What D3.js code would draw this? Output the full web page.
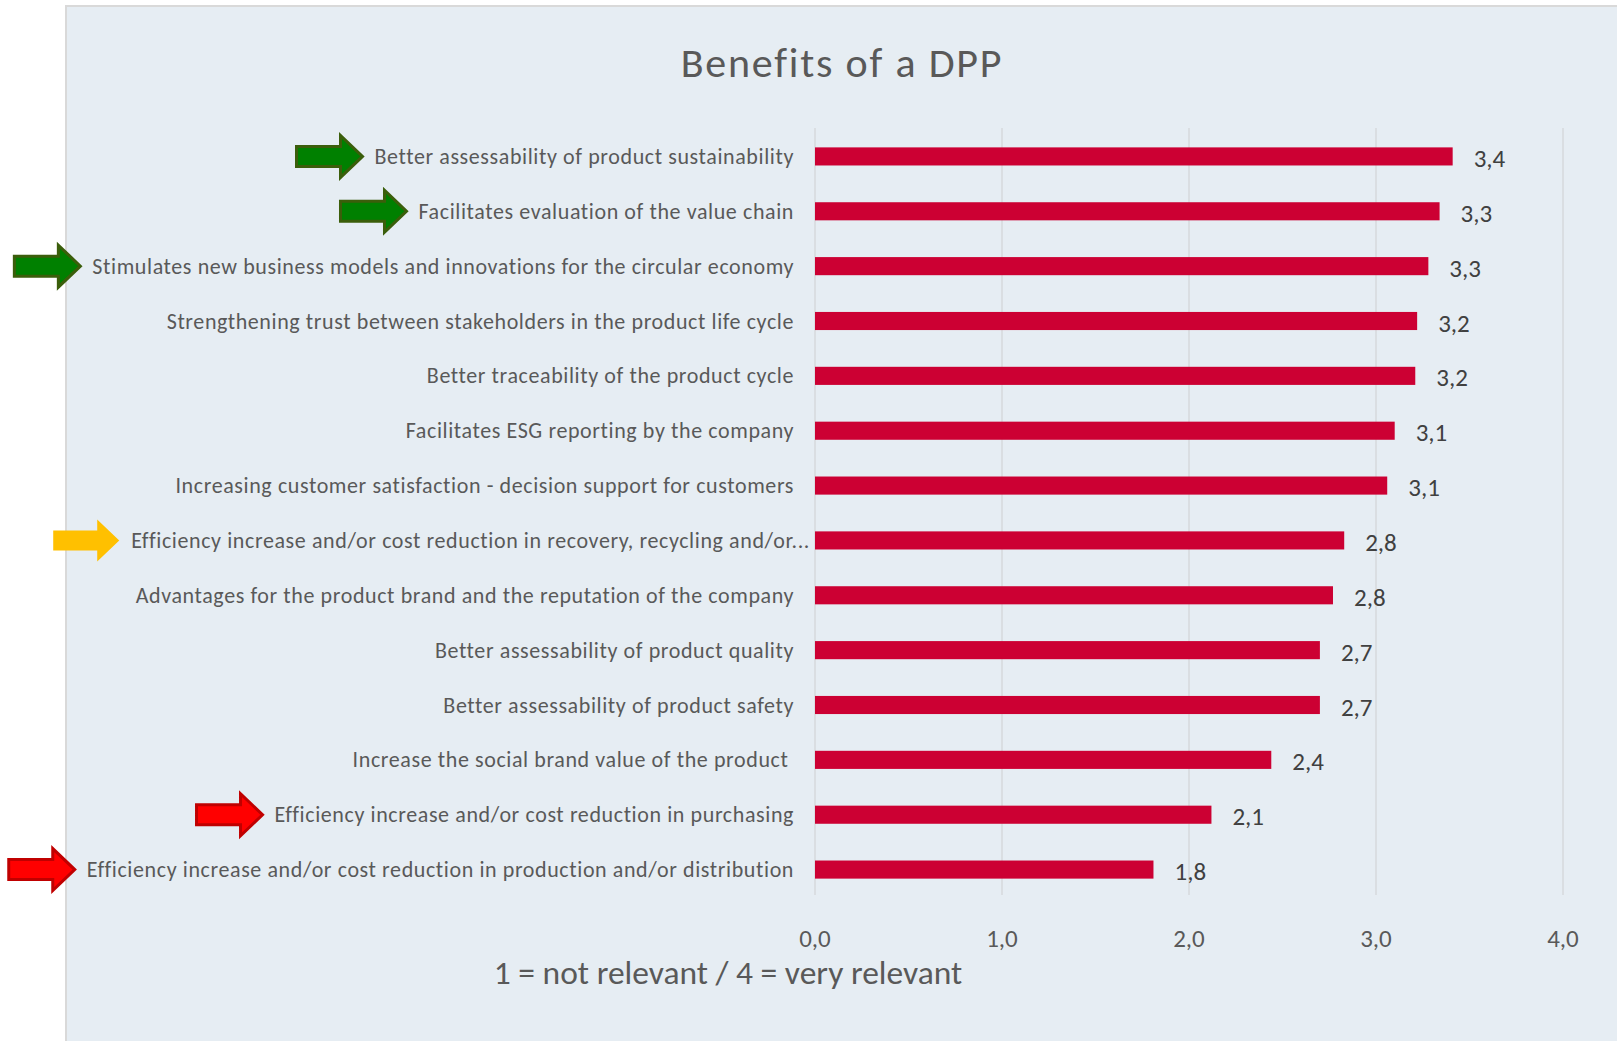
<!DOCTYPE html>
<html>
<head>
<meta charset="utf-8">
<script src="https://cdn.jsdelivr.net/npm/d3@7.9.0/dist/d3.min.js"></script>
<style>
  body { margin: 0; background: #ffffff; }
  svg { display: block; }
  text { font-family: Carlito, Calibri, Lato, sans-serif; }
</style>
</head>
<body>
<svg id="chart" width="1617" height="1041"></svg>
<script>
// data
const categories = [
  "Better assessability of product sustainability",
  "Facilitates evaluation of the value chain",
  "Stimulates new business models and innovations for the circular economy",
  "Strengthening trust between stakeholders in the product life cycle",
  "Better traceability of the product cycle",
  "Facilitates ESG reporting by the company",
  "Increasing customer satisfaction - decision support for customers",
  "Efficiency increase and/or cost reduction in recovery, recycling and/or...",
  "Advantages for the product brand and the reputation of the company",
  "Better assessability of product quality",
  "Better assessability of product safety",
  "Increase the social brand value of the product ",
  "Efficiency increase and/or cost reduction in purchasing",
  "Efficiency increase and/or cost reduction in production and/or distribution"
];
const values = [3.41, 3.34, 3.28, 3.22, 3.21, 3.10, 3.06, 2.83, 2.77, 2.70, 2.70, 2.44, 2.12, 1.81];
const xTicks = [0, 1, 2, 3, 4];

// arrows next to some of the labels
const arrowRows = [0, 1, 2, 7, 12, 13];
const arrowFill = ["#008000", "#008000", "#008000", "#ffc000", "#ff0000", "#ff0000"];
const arrowStroke = ["#3b5e0b", "#3b5e0b", "#3b5e0b", "none", "#c00000", "#c00000"];

const title = "Benefits of a DPP";
const axisTitle = "1 = not relevant / 4 = very relevant";

const svg = d3.select('#chart');
const comma = (v, d) => v.toFixed(d).replace('.', ',');

// panel background
svg.append('rect')
  .attr('x', 66).attr('y', 6)
  .attr('width', 1600).attr('height', 1100)
  .attr('fill', '#e6edf3')
  .attr('stroke', '#d9d9d9')
  .attr('stroke-width', 2);

let x = d3.scaleLinear().domain([0, 4]).range([815, 1563]);
let y = d3.scaleBand().domain(categories).range([129, 897])
  .paddingInner(0.67).paddingOuter(0.335);

// gridlines
svg.append('g')
  .selectAll('line')
  .data(xTicks)
  .enter()
  .append('line')
  .attr('x1', d => x(d)).attr('x2', d => x(d))
  .attr('y1', 128).attr('y2', 895)
  .attr('stroke', '#d6d9dc')
  .attr('stroke-width', 1.5);

// tick labels
svg.append('g')
  .selectAll('text')
  .data(xTicks)
  .enter()
  .append('text')
  .attr('x', d => x(d))
  .attr('y', 938)
  .attr('text-anchor', 'middle')
  .attr('dominant-baseline', 'central')
  .attr('font-size', 25)
  .attr('fill', '#595959')
  .text(d => comma(d, 1));

// bars
svg.append('g')
  .selectAll('rect')
  .data(values)
  .enter()
  .append('rect')
  .attr('x', x(0))
  .attr('y', (d, i) => y(categories[i]))
  .attr('width', d => x(d) - x(0))
  .attr('height', y.bandwidth())
  .attr('fill', '#cc0033');

// value labels
svg.append('g')
  .selectAll('text')
  .data(values)
  .enter()
  .append('text')
  .attr('x', d => x(d) + 21)
  .attr('y', (d, i) => y(categories[i]) + y.bandwidth() / 2 + 2)
  .attr('dominant-baseline', 'central')
  .attr('font-size', 25)
  .attr('fill', '#404040')
  .text(d => comma(d, 1));

// category labels (truncated one runs a bit further right, like in Excel)
let labels = svg.append('g')
  .selectAll('text')
  .data(categories)
  .enter()
  .append('text')
  .attr('x', d => d.endsWith('...') ? 810 : 794)
  .attr('y', d => y(d) + y.bandwidth() / 2)
  .attr('text-anchor', 'end')
  .attr('dominant-baseline', 'central')
  .attr('font-size', 22)
  .attr('letter-spacing', 0.6)
  .attr('fill', '#595959')
  .style('white-space', 'pre')
  .text(d => d);

// arrows, placed just left of their label
const arrowPath = (right, cy) => {
  const w = 66, h = 42, shaft = 20, head = 22;
  return `M${right - w},${cy - shaft / 2} L${right - head},${cy - shaft / 2} L${right - head},${cy - h / 2} ` +
    `L${right},${cy} L${right - head},${cy + h / 2} L${right - head},${cy + shaft / 2} L${right - w},${cy + shaft / 2} Z`;
};
let labelNodes = labels.nodes();
arrowRows.forEach((row, i) => {
  let box = labelNodes[row].getBBox();
  let cy = y(categories[row]) + y.bandwidth() / 2;
  svg.append('path')
    .attr('d', arrowPath(box.x - 12, cy))
    .attr('fill', arrowFill[i])
    .attr('stroke', arrowStroke[i])
    .attr('stroke-width', 3);
});

// titles
svg.append('text')
  .attr('x', 842).attr('y', 62)
  .attr('text-anchor', 'middle')
  .attr('dominant-baseline', 'central')
  .attr('font-size', 42)
  .attr('letter-spacing', 1.8)
  .attr('fill', '#595959')
  .text(title);

svg.append('text')
  .attr('x', 728).attr('y', 972)
  .attr('text-anchor', 'middle')
  .attr('dominant-baseline', 'central')
  .attr('font-size', 33.5)
  .attr('fill', '#595959')
  .text(axisTitle);
</script>
</body>
</html>
